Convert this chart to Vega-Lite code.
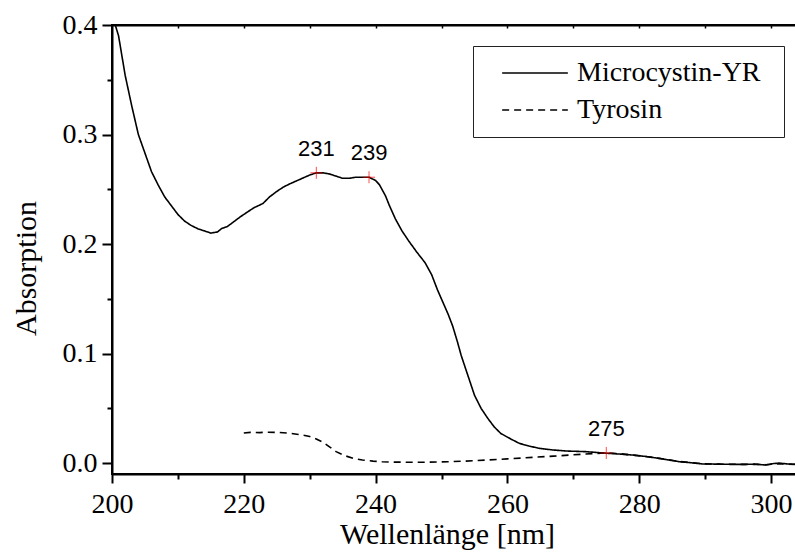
{
  "$schema": "https://vega.github.io/schema/vega-lite/v6.json",
  "width": 690,
  "height": 449,
  "autosize": {"type": "none"},
  "padding": {"left": 112, "top": 25, "right": 0, "bottom": 78},
  "background": "white",
  "config": {"view": {"stroke": "black", "strokeWidth": 2}, "font": "Liberation Serif"},
  "datasets": {
    "spectra": [
      {"series": "Microcystin-YR", "wl": 200.0, "a": 0.44},
      {"series": "Microcystin-YR", "wl": 200.5, "a": 0.40},
      {"series": "Microcystin-YR", "wl": 201.0, "a": 0.39},
      {"series": "Microcystin-YR", "wl": 202.0, "a": 0.354},
      {"series": "Microcystin-YR", "wl": 203.0, "a": 0.326},
      {"series": "Microcystin-YR", "wl": 204.0, "a": 0.300},
      {"series": "Microcystin-YR", "wl": 205.0, "a": 0.283},
      {"series": "Microcystin-YR", "wl": 206.0, "a": 0.266},
      {"series": "Microcystin-YR", "wl": 207.0, "a": 0.254},
      {"series": "Microcystin-YR", "wl": 208.0, "a": 0.243},
      {"series": "Microcystin-YR", "wl": 209.0, "a": 0.235},
      {"series": "Microcystin-YR", "wl": 210.0, "a": 0.227},
      {"series": "Microcystin-YR", "wl": 211.0, "a": 0.221},
      {"series": "Microcystin-YR", "wl": 212.0, "a": 0.217},
      {"series": "Microcystin-YR", "wl": 213.0, "a": 0.214},
      {"series": "Microcystin-YR", "wl": 214.0, "a": 0.212},
      {"series": "Microcystin-YR", "wl": 215.0, "a": 0.210},
      {"series": "Microcystin-YR", "wl": 216.0, "a": 0.211},
      {"series": "Microcystin-YR", "wl": 216.6, "a": 0.214},
      {"series": "Microcystin-YR", "wl": 217.5, "a": 0.216},
      {"series": "Microcystin-YR", "wl": 218.4, "a": 0.220},
      {"series": "Microcystin-YR", "wl": 219.5, "a": 0.225},
      {"series": "Microcystin-YR", "wl": 220.5, "a": 0.229},
      {"series": "Microcystin-YR", "wl": 221.5, "a": 0.233},
      {"series": "Microcystin-YR", "wl": 222.9, "a": 0.237},
      {"series": "Microcystin-YR", "wl": 223.9, "a": 0.243},
      {"series": "Microcystin-YR", "wl": 225.0, "a": 0.248},
      {"series": "Microcystin-YR", "wl": 226.0, "a": 0.252},
      {"series": "Microcystin-YR", "wl": 227.0, "a": 0.255},
      {"series": "Microcystin-YR", "wl": 228.5, "a": 0.259},
      {"series": "Microcystin-YR", "wl": 230.0, "a": 0.263},
      {"series": "Microcystin-YR", "wl": 231.0, "a": 0.265},
      {"series": "Microcystin-YR", "wl": 232.0, "a": 0.265},
      {"series": "Microcystin-YR", "wl": 233.0, "a": 0.264},
      {"series": "Microcystin-YR", "wl": 234.0, "a": 0.262},
      {"series": "Microcystin-YR", "wl": 235.0, "a": 0.260},
      {"series": "Microcystin-YR", "wl": 236.0, "a": 0.260},
      {"series": "Microcystin-YR", "wl": 237.0, "a": 0.261},
      {"series": "Microcystin-YR", "wl": 238.0, "a": 0.261},
      {"series": "Microcystin-YR", "wl": 239.0, "a": 0.261},
      {"series": "Microcystin-YR", "wl": 240.0, "a": 0.258},
      {"series": "Microcystin-YR", "wl": 240.6, "a": 0.254},
      {"series": "Microcystin-YR", "wl": 241.5, "a": 0.244},
      {"series": "Microcystin-YR", "wl": 242.1, "a": 0.235},
      {"series": "Microcystin-YR", "wl": 243.0, "a": 0.223},
      {"series": "Microcystin-YR", "wl": 244.0, "a": 0.212},
      {"series": "Microcystin-YR", "wl": 245.0, "a": 0.203},
      {"series": "Microcystin-YR", "wl": 246.2, "a": 0.193},
      {"series": "Microcystin-YR", "wl": 247.5, "a": 0.183},
      {"series": "Microcystin-YR", "wl": 248.5, "a": 0.172},
      {"series": "Microcystin-YR", "wl": 249.4, "a": 0.158},
      {"series": "Microcystin-YR", "wl": 250.2, "a": 0.147},
      {"series": "Microcystin-YR", "wl": 251.0, "a": 0.136},
      {"series": "Microcystin-YR", "wl": 251.7, "a": 0.125},
      {"series": "Microcystin-YR", "wl": 252.4, "a": 0.111},
      {"series": "Microcystin-YR", "wl": 253.0, "a": 0.098},
      {"series": "Microcystin-YR", "wl": 254.0, "a": 0.080},
      {"series": "Microcystin-YR", "wl": 255.0, "a": 0.062},
      {"series": "Microcystin-YR", "wl": 256.0, "a": 0.050},
      {"series": "Microcystin-YR", "wl": 257.0, "a": 0.041},
      {"series": "Microcystin-YR", "wl": 258.0, "a": 0.033},
      {"series": "Microcystin-YR", "wl": 259.0, "a": 0.027},
      {"series": "Microcystin-YR", "wl": 260.5, "a": 0.022},
      {"series": "Microcystin-YR", "wl": 261.8, "a": 0.018},
      {"series": "Microcystin-YR", "wl": 263.3, "a": 0.0155},
      {"series": "Microcystin-YR", "wl": 264.8, "a": 0.0135},
      {"series": "Microcystin-YR", "wl": 266.8, "a": 0.0120},
      {"series": "Microcystin-YR", "wl": 268.9, "a": 0.0110},
      {"series": "Microcystin-YR", "wl": 271.9, "a": 0.0104},
      {"series": "Microcystin-YR", "wl": 275.0, "a": 0.0090},
      {"series": "Microcystin-YR", "wl": 277.0, "a": 0.0082},
      {"series": "Microcystin-YR", "wl": 279.0, "a": 0.0073},
      {"series": "Microcystin-YR", "wl": 281.0, "a": 0.0060},
      {"series": "Microcystin-YR", "wl": 283.0, "a": 0.0043},
      {"series": "Microcystin-YR", "wl": 284.5, "a": 0.0028},
      {"series": "Microcystin-YR", "wl": 286.1, "a": 0.0012},
      {"series": "Microcystin-YR", "wl": 288.0, "a": 0.0002},
      {"series": "Microcystin-YR", "wl": 289.6, "a": -0.0008},
      {"series": "Microcystin-YR", "wl": 292.0, "a": -0.0010},
      {"series": "Microcystin-YR", "wl": 294.1, "a": -0.0012},
      {"series": "Microcystin-YR", "wl": 296.0, "a": -0.0012},
      {"series": "Microcystin-YR", "wl": 297.5, "a": -0.0010},
      {"series": "Microcystin-YR", "wl": 299.2, "a": -0.0018},
      {"series": "Microcystin-YR", "wl": 300.2, "a": -0.0006},
      {"series": "Microcystin-YR", "wl": 301.2, "a": 0.0000},
      {"series": "Microcystin-YR", "wl": 302.5, "a": -0.0008},
      {"series": "Microcystin-YR", "wl": 303.8, "a": -0.0012},
      {"series": "Microcystin-YR", "wl": 305.0, "a": -0.0010},
      {"series": "Tyrosin", "wl": 220.0, "a": 0.0275},
      {"series": "Tyrosin", "wl": 221.0, "a": 0.0280},
      {"series": "Tyrosin", "wl": 222.4, "a": 0.0278},
      {"series": "Tyrosin", "wl": 223.5, "a": 0.0282},
      {"series": "Tyrosin", "wl": 225.0, "a": 0.0280},
      {"series": "Tyrosin", "wl": 226.5, "a": 0.0275},
      {"series": "Tyrosin", "wl": 227.5, "a": 0.0268},
      {"series": "Tyrosin", "wl": 229.0, "a": 0.0255},
      {"series": "Tyrosin", "wl": 230.0, "a": 0.0242},
      {"series": "Tyrosin", "wl": 231.0, "a": 0.0220},
      {"series": "Tyrosin", "wl": 232.0, "a": 0.0190},
      {"series": "Tyrosin", "wl": 233.0, "a": 0.0148},
      {"series": "Tyrosin", "wl": 234.0, "a": 0.0104},
      {"series": "Tyrosin", "wl": 235.3, "a": 0.0068},
      {"series": "Tyrosin", "wl": 236.6, "a": 0.0043},
      {"series": "Tyrosin", "wl": 238.0, "a": 0.0028},
      {"series": "Tyrosin", "wl": 239.6, "a": 0.0018},
      {"series": "Tyrosin", "wl": 241.0, "a": 0.0012},
      {"series": "Tyrosin", "wl": 242.6, "a": 0.0009},
      {"series": "Tyrosin", "wl": 245.0, "a": 0.0007},
      {"series": "Tyrosin", "wl": 248.0, "a": 0.0008},
      {"series": "Tyrosin", "wl": 251.0, "a": 0.0012},
      {"series": "Tyrosin", "wl": 253.7, "a": 0.0018},
      {"series": "Tyrosin", "wl": 257.0, "a": 0.0028},
      {"series": "Tyrosin", "wl": 260.0, "a": 0.0038},
      {"series": "Tyrosin", "wl": 263.8, "a": 0.0052},
      {"series": "Tyrosin", "wl": 267.0, "a": 0.0063},
      {"series": "Tyrosin", "wl": 270.0, "a": 0.0075},
      {"series": "Tyrosin", "wl": 271.9, "a": 0.0083},
      {"series": "Tyrosin", "wl": 275.0, "a": 0.0093},
      {"series": "Tyrosin", "wl": 277.0, "a": 0.0086},
      {"series": "Tyrosin", "wl": 279.0, "a": 0.0073},
      {"series": "Tyrosin", "wl": 281.0, "a": 0.0060},
      {"series": "Tyrosin", "wl": 283.0, "a": 0.0043},
      {"series": "Tyrosin", "wl": 284.5, "a": 0.0030},
      {"series": "Tyrosin", "wl": 286.1, "a": 0.0014},
      {"series": "Tyrosin", "wl": 288.0, "a": 0.0003},
      {"series": "Tyrosin", "wl": 289.6, "a": -0.0007},
      {"series": "Tyrosin", "wl": 292.0, "a": -0.0010},
      {"series": "Tyrosin", "wl": 294.1, "a": -0.0011},
      {"series": "Tyrosin", "wl": 296.0, "a": -0.0012},
      {"series": "Tyrosin", "wl": 298.0, "a": -0.0012},
      {"series": "Tyrosin", "wl": 299.2, "a": -0.0015},
      {"series": "Tyrosin", "wl": 301.0, "a": -0.0008},
      {"series": "Tyrosin", "wl": 303.8, "a": -0.0012},
      {"series": "Tyrosin", "wl": 305.0, "a": -0.0010}
    ],
    "peaks": [
      {"wl": 231.0, "a": 0.265, "label": "231"},
      {"wl": 239.0, "a": 0.261, "label": "239"},
      {"wl": 275.0, "a": 0.0092, "label": "275"}
    ]
  },
  "layer": [
    {
      "data": {"name": "spectra"},
      "mark": {"type": "line", "clip": true, "color": "black", "strokeWidth": 1.6},
      "encoding": {
        "x": {
          "field": "wl", "type": "quantitative",
          "scale": {"domain": [200, 304.7], "nice": false, "zero": false},
          "axis": {
            "orient": "bottom",
            "values": [200, 210, 220, 230, 240, 250, 260, 270, 280, 290, 300],
            "format": "d",
            "labelExpr": "datum.value % 20 === 0 ? datum.label : ''",
            "labelOverlap": false, "labelFlush": false,
            "tickSize": {"condition": {"test": "datum.value % 20 === 0", "value": 9}, "value": 5},
            "tickWidth": 2, "tickColor": "black",
            "domainWidth": 2, "domainColor": "black",
            "grid": false,
            "labelFont": "Liberation Serif", "labelFontSize": 28, "labelColor": "black", "labelPadding": 7,
            "title": "Wellenlänge [nm]",
            "titleFont": "Liberation Serif", "titleFontSize": 30, "titleFontWeight": "normal", "titleColor": "black",
            "titleX": 335, "titleY": 69, "titleAlign": "center", "titleBaseline": "alphabetic", "titleAnchor": "start"
          }
        },
        "y": {
          "field": "a", "type": "quantitative",
          "scale": {"domain": [-0.01, 0.4], "nice": false, "zero": false},
          "axis": {
            "orient": "left",
            "values": [0, 0.05, 0.1, 0.15, 0.2, 0.25, 0.3, 0.35, 0.4],
            "labelExpr": "round(datum.value * 100) % 10 === 0 ? format(datum.value, '.1f') : ''",
            "labelOverlap": false, "labelFlush": false,
            "tickSize": {"condition": {"test": "round(datum.value * 100) % 10 === 0", "value": 10}, "value": 5},
            "tickWidth": 2, "tickColor": "black",
            "domainWidth": 2, "domainColor": "black",
            "grid": false,
            "labelFont": "Liberation Serif", "labelFontSize": 28, "labelColor": "black", "labelPadding": 5,
            "title": "Absorption",
            "titleFont": "Liberation Serif", "titleFontSize": 30, "titleFontWeight": "normal", "titleColor": "black",
            "titleX": -77, "titleY": 243, "titleAngle": -90, "titleAlign": "center", "titleBaseline": "alphabetic", "titleAnchor": "start"
          }
        },
        "strokeDash": {
          "field": "series", "type": "nominal",
          "scale": {"domain": ["Microcystin-YR", "Tyrosin"], "range": [[1, 0], [7, 5]]},
          "legend": {
            "orient": "none", "legendX": 361, "legendY": 21,
            "title": "\u00a0", "titleOrient": "right", "titlePadding": 10, "titleFontSize": 11,
            "symbolType": "M-7.3,0L7.3,0", "symbolSize": 81,
            "symbolStrokeWidth": 1.6, "symbolStrokeColor": "black", "symbolFillColor": "transparent",
            "symbolOffset": 35,
            "labelFont": "Liberation Serif", "labelFontSize": 28, "labelColor": "black",
            "labelOffset": 28, "labelLimit": 0,
            "rowPadding": 9,
            "padding": 13,
            "strokeColor": "#222"
          }
        }
      }
    },
    {
      "data": {"values": [{}]},
      "mark": {"type": "rule", "color": "black", "strokeWidth": 2},
      "encoding": {"y": {"datum": 0.4}}
    },
    {
      "data": {"name": "peaks"},
      "mark": {"type": "point", "shape": "M-1,0L1,0M0,-1L0,1", "size": 144, "color": "red", "filled": false, "strokeWidth": 1},
      "encoding": {
        "x": {
          "field": "wl", "type": "quantitative",
          "axis": {
            "orient": "top",
            "values": [210, 220, 230, 240, 250, 260, 270, 280, 290, 300],
            "labels": false, "grid": false,
            "tickSize": -3, "tickWidth": 1.5, "tickColor": "black",
            "domainWidth": 2, "domainColor": "black",
            "title": null
          }
        },
        "y": {"field": "a", "type": "quantitative"}
      }
    },
    {
      "data": {"name": "peaks"},
      "mark": {"type": "text", "font": "Liberation Sans", "fontSize": 22, "baseline": "alphabetic", "dy": -17, "color": "black"},
      "encoding": {
        "x": {"field": "wl", "type": "quantitative", "axis": null},
        "y": {"field": "a", "type": "quantitative"},
        "text": {"field": "label"}
      }
    }
  ],
  "resolve": {"axis": {"x": "independent"}}
}
